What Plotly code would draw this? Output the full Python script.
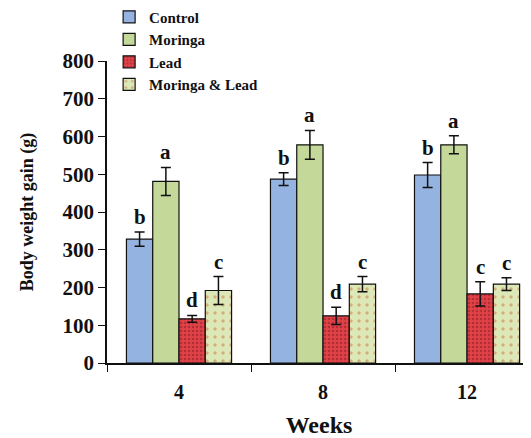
import plotly.graph_objects as go

weeks = ["4", "8", "12"]
series = ["Control", "Moringa", "Lead", "Moringa & Lead"]
control = [328, 487, 498]
moringa = [481, 578, 578]
lead = [117, 125, 183]
moringa_lead = [192, 209, 209]
control_err = [19, 17, 33]
moringa_err = [37, 38, 24]
lead_err = [9, 23, 32]
moringa_lead_err = [37, 20, 17]
letters = [["b", "b", "b"], ["a", "a", "a"], ["d", "d", "c"], ["c", "c", "c"]]

values = [control, moringa, lead, moringa_lead]
errors = [control_err, moringa_err, lead_err, moringa_lead_err]
colors = ["#95b3e0", "#c4d89a", "#e0424a", "#dde8b8"]
patterns = [
    dict(shape=""),
    dict(shape=""),
    dict(shape=".", fgcolor="#8a1a1a", size=4, solidity=0.35),
    dict(shape=".", fgcolor="#c8783c", size=8, solidity=0.15),
]

FONT = "Liberation Serif"
fig = go.Figure()
for name, v, e, c, p in zip(series, values, errors, colors, patterns):
    fig.add_trace(go.Bar(
        name="<b>%s</b>" % name, x=weeks, y=v,
        marker=dict(color=c, line=dict(color="#111111", width=1.2), pattern=p),
        error_y=dict(type="data", array=e, color="#111111", thickness=1.5, width=5),
    ))

bargap = 0.27
bw = (1 - bargap) / 4
for j in range(4):
    off = (j - 1.5) * bw
    for i in range(3):
        fig.add_annotation(
            x=i + off, y=values[j][i] + errors[j][i], xref="x", yref="y",
            text="<b>%s</b>" % letters[j][i], showarrow=False,
            yanchor="bottom", yshift=1,
            font=dict(family=FONT, size=21, color="#111111"),
        )

fig.update_layout(
    width=531, height=438,
    margin=dict(l=99, r=8, t=53, b=83, autoexpand=False),
    paper_bgcolor="white", plot_bgcolor="white",
    barmode="group", bargap=bargap, bargroupgap=0,
    font=dict(family=FONT, color="#111111"),
    showlegend=True,
    legend=dict(
        x=0.005, y=1.2, xref="paper", yref="paper",
        xanchor="left", yanchor="top",
        bgcolor="rgba(0,0,0,0)",
        font=dict(family=FONT, size=15, color="#111111"),
        tracegroupgap=0, itemwidth=30,
    ),
    xaxis=dict(
        range=[-0.5, 2.444], automargin=False,
        showline=True, linecolor="#111111", linewidth=1.5,
        ticks="outside", tickson="boundaries", ticklen=7, tickcolor="#111111",
        tickfont=dict(family=FONT, size=20, color="#111111"),
        ticklabelstandoff=10,
        title=dict(text="<b>Weeks</b>", font=dict(family=FONT, size=24, color="#111111"), standoff=14),
        showgrid=False,
    ),
    yaxis=dict(
        range=[0, 800], dtick=100, automargin=False,
        showline=True, linecolor="#111111", linewidth=1.5,
        ticks="outside", ticklen=7, tickcolor="#111111",
        tickfont=dict(family=FONT, size=21, color="#111111"),
        title=dict(text="<b>Body weight gain (g)</b>", font=dict(family=FONT, size=18, color="#111111"), standoff=24),
        showgrid=False, zeroline=False,
    ),
)
fig.update_xaxes(tickprefix="<b>", ticksuffix="</b>")
fig.update_yaxes(tickprefix="<b>", ticksuffix="</b>")

fig.write_html("out.html")
